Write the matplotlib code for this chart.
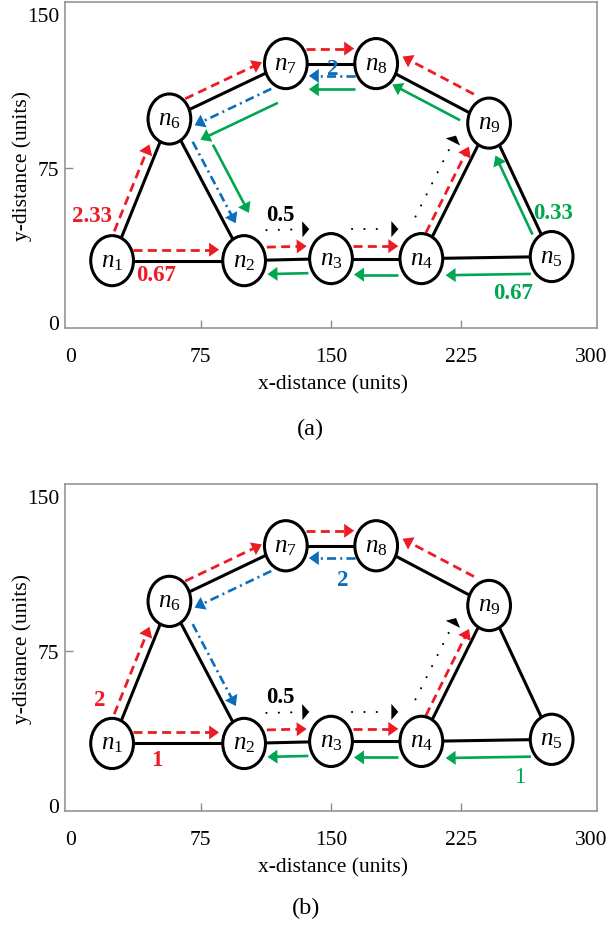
import matplotlib
matplotlib.use('Agg')
import matplotlib.pyplot as plt
import numpy as np
from matplotlib.patches import Ellipse, Polygon

plt.rcParams['font.family'] = ['Liberation Serif', 'DejaVu Serif']
plt.rcParams['mathtext.fontset'] = 'custom'
plt.rcParams['mathtext.it'] = 'Liberation Serif:italic'
plt.rcParams['mathtext.rm'] = 'Liberation Serif'
plt.rcParams['lines.scale_dashes'] = False

# ---------------- data ----------------
node_ids = [1, 2, 3, 4, 5, 6, 7, 8, 9]
node_x = [24, 100, 150, 202, 277, 57, 124, 176, 241]
node_y = [30, 30, 31, 31, 32, 99, 126, 126, 97]
links = [(1, 2), (2, 3), (3, 4), (4, 5), (1, 6), (6, 2), (6, 7), (7, 8), (8, 9), (9, 4), (9, 5)]

red_flows = [(1, 2), (1, 6), (6, 7), (7, 8), (9, 8), (2, 3), (3, 4), (4, 9)]
green_flows_a = [(5, 4), (4, 3), (3, 2), (5, 9), (9, 8), (8, 7), (7, 6), (6, 2)]
green_flows_b = [(5, 4), (4, 3), (3, 2)]
blue_flows = [(8, 7), (7, 6), (6, 2)]
black_flows = [(2, 3), (3, 4), (4, 9)]

rates_a = ['2.33', '0.67', '0.33', '0.67', '0.5', '2']
rates_b = ['2', '1', '1', '0.5', '2']

x_ticks = [0, 75, 150, 225, 300]
y_ticks = [0, 75, 150]

# ---------------- layout / style ----------------
RED, GREEN, BLUE, BLACK = '#ED1C24', '#00A650', '#0A6EBD', '#000000'

# (perpendicular offset px, start gap px, end gap px)
geom = {
    ('r', 1, 2): (11, 21, 25), ('r', 1, 6): (9, 28, 31), ('r', 6, 7): (11.5, 23, 21),
    ('r', 7, 8): (15, 20, 22), ('r', 9, 8): (-18.5, 27, 20), ('r', 2, 3): (13, 23, 24),
    ('r', 3, 4): (12.5, 22, 23), ('r', 4, 9): (7.5, 25, 30),
    ('g', 5, 4): (17, 21, 24), ('g', 4, 3): (16, 23, 23), ('g', 3, 2): (14, 23, 23),
    ('g', 5, 9): (8, 28, 32), ('g', 9, 8): (11, 27, 24), ('g', 8, 7): (25.7, 21, 23),
    ('g', 7, 6): (32, 24, 19), ('g', 6, 2): (26.5, 43, 40),
    ('b', 8, 7): (12.3, 21, 23), ('b', 7, 6): (16.5, 24, 20), ('b', 6, 2): (10, 31, 37),
    ('k', 2, 3): (30, 23, 21), ('k', 3, 4): (29.5, 21, 23), ('k', 4, 9): (24, 35, 26),
}
style = {
    'r': dict(color=RED, lw=2.0, dashes=(6.5, 3.8), hl=10, hw=7),
    'g': dict(color=GREEN, lw=1.9, dashes=None, hl=10, hw=7),
    'b': dict(color=BLUE, lw=1.9, dashes=(6.5, 3, 1.5, 3), hl=10, hw=7),
    'k': dict(color=BLACK, lw=1.5, dashes=(0.1, 8.8), hl=7, hw=8),
}

fig = plt.figure(figsize=(6.12, 9.28), dpi=100)
ax_a = fig.add_axes([65 / 612, 1 - 329 / 928, 532 / 612, 326 / 928])
ax_b = fig.add_axes([65 / 612, 1 - 812 / 928, 532 / 612, 327 / 928])


def setup(ax):
    ax.set_xlim(-3.1, 303.1)
    ax.set_ylim(-2.8, 156.0)
    for sp in ax.spines.values():
        sp.set_color('#8c8c8c')
        sp.set_linewidth(1.1)
    ax.set_xticks(x_ticks)
    ax.set_yticks(y_ticks)
    ax.set_xticklabels([str(t) for t in x_ticks])
    ax.set_yticklabels([str(t) for t in y_ticks])
    ax.tick_params(direction='in', length=6, width=1, color='#8c8c8c',
                   labelsize=15.5)
    ax.tick_params(axis='x', pad=14)
    ax.tick_params(axis='y', pad=4)
    xt = ax.xaxis.get_major_ticks()
    yt = ax.yaxis.get_major_ticks()
    for t in (xt[0], xt[-1], yt[0], yt[-1]):
        t.tick1line.set_visible(False)
    ax.set_xlabel('x-distance (units)', fontsize=15.5)
    ax.set_ylabel('y-distance (units)', fontsize=15.5)
    ax.xaxis.set_label_coords(268 / 532, -46 / 326)
    ax.yaxis.set_label_coords(-33 / 532, 0.5)


def draw_flow(ax, key):
    c, s, d = key
    off, g0, g1 = geom[key]
    st = style[c]
    P = ax.transData.transform([(node_x[s - 1], node_y[s - 1]),
                                (node_x[d - 1], node_y[d - 1])])
    v = P[1] - P[0]
    L = np.hypot(*v)
    u = v / L
    n = np.array([-u[1], u[0]])
    a = P[0] + u * g0 + n * off
    b = P[1] - u * g1 + n * off
    base = b - u * st['hl']
    inv = ax.transData.inverted()
    A, B, Bs = inv.transform([a, b, base + u * 1.5])
    kw = dict(color=st['color'], lw=st['lw'], solid_capstyle='butt', zorder=3)
    if st['dashes'] is not None:
        kw['dashes'] = st['dashes']
        kw['dash_capstyle'] = 'butt'
    if c == 'k':
        kw['dash_capstyle'] = 'round'
        Bs = inv.transform([base - u * 3])[0]
    ax.plot([A[0], Bs[0]], [A[1], Bs[1]], **kw)
    head = inv.transform([b, base + n * st['hw'], base - n * st['hw']])
    ax.add_patch(Polygon(head, closed=True, facecolor=st['color'],
                         edgecolor='none', zorder=4))


def draw_network(ax, flows):
    for s, d in links:
        ax.plot([node_x[s - 1], node_x[d - 1]], [node_y[s - 1], node_y[d - 1]],
                color='black', lw=2.2, zorder=1, solid_capstyle='butt')
    for key in flows:
        draw_flow(ax, key)
    for i, x, y in zip(node_ids, node_x, node_y):
        ax.add_patch(Ellipse((x, y), 24.6, 24.4, facecolor='white',
                             edgecolor='black', lw=2.2, zorder=5))
        ax.text(x, y, r'$n_{%d}$' % i, ha='center', va='center',
                fontsize=18, zorder=6)


setup(ax_a)
setup(ax_b)

flows_a = ([('r',) + f for f in red_flows] + [('g',) + f for f in green_flows_a] +
           [('b',) + f for f in blue_flows] + [('k',) + f for f in black_flows])
flows_b = ([('r',) + f for f in red_flows] + [('g',) + f for f in green_flows_b] +
           [('b',) + f for f in blue_flows] + [('k',) + f for f in black_flows])

draw_network(ax_a, flows_a)
draw_network(ax_b, flows_b)

lab_kw = dict(ha='center', va='center', fontsize=16.5, fontweight='bold', zorder=7)
pos_a = [(12.2, 51.9), (49.3, 23.5), (277.6, 53.6), (254.6, 14.6), (120.6, 52.7), (151, 123.4)]
col_a = [RED, RED, GREEN, GREEN, BLACK, BLUE]
for t, p, c in zip(rates_a, pos_a, col_a):
    ax_a.text(p[0], p[1], t, color=c, **lab_kw)

pos_b = [(17, 51.3), (49.7, 22), (258.4, 13.9), (120.6, 52.7), (156.7, 109.7)]
col_b = [RED, RED, GREEN, BLACK, BLUE]
wt_b = ['bold', 'bold', 'normal', 'bold', 'bold']
for t, p, c, w in zip(rates_b, pos_b, col_b, wt_b):
    kw = dict(lab_kw)
    kw['fontweight'] = w
    ax_b.text(p[0], p[1], t, color=c, **kw)

fig.text(310 / 612, 1 - 429 / 928, '(a)', ha='center', va='center', fontsize=17.5)
fig.text(306 / 612, 1 - 908 / 928, '(b)', ha='center', va='center', fontsize=17.5)

fig.savefig('out.png', dpi=100)
